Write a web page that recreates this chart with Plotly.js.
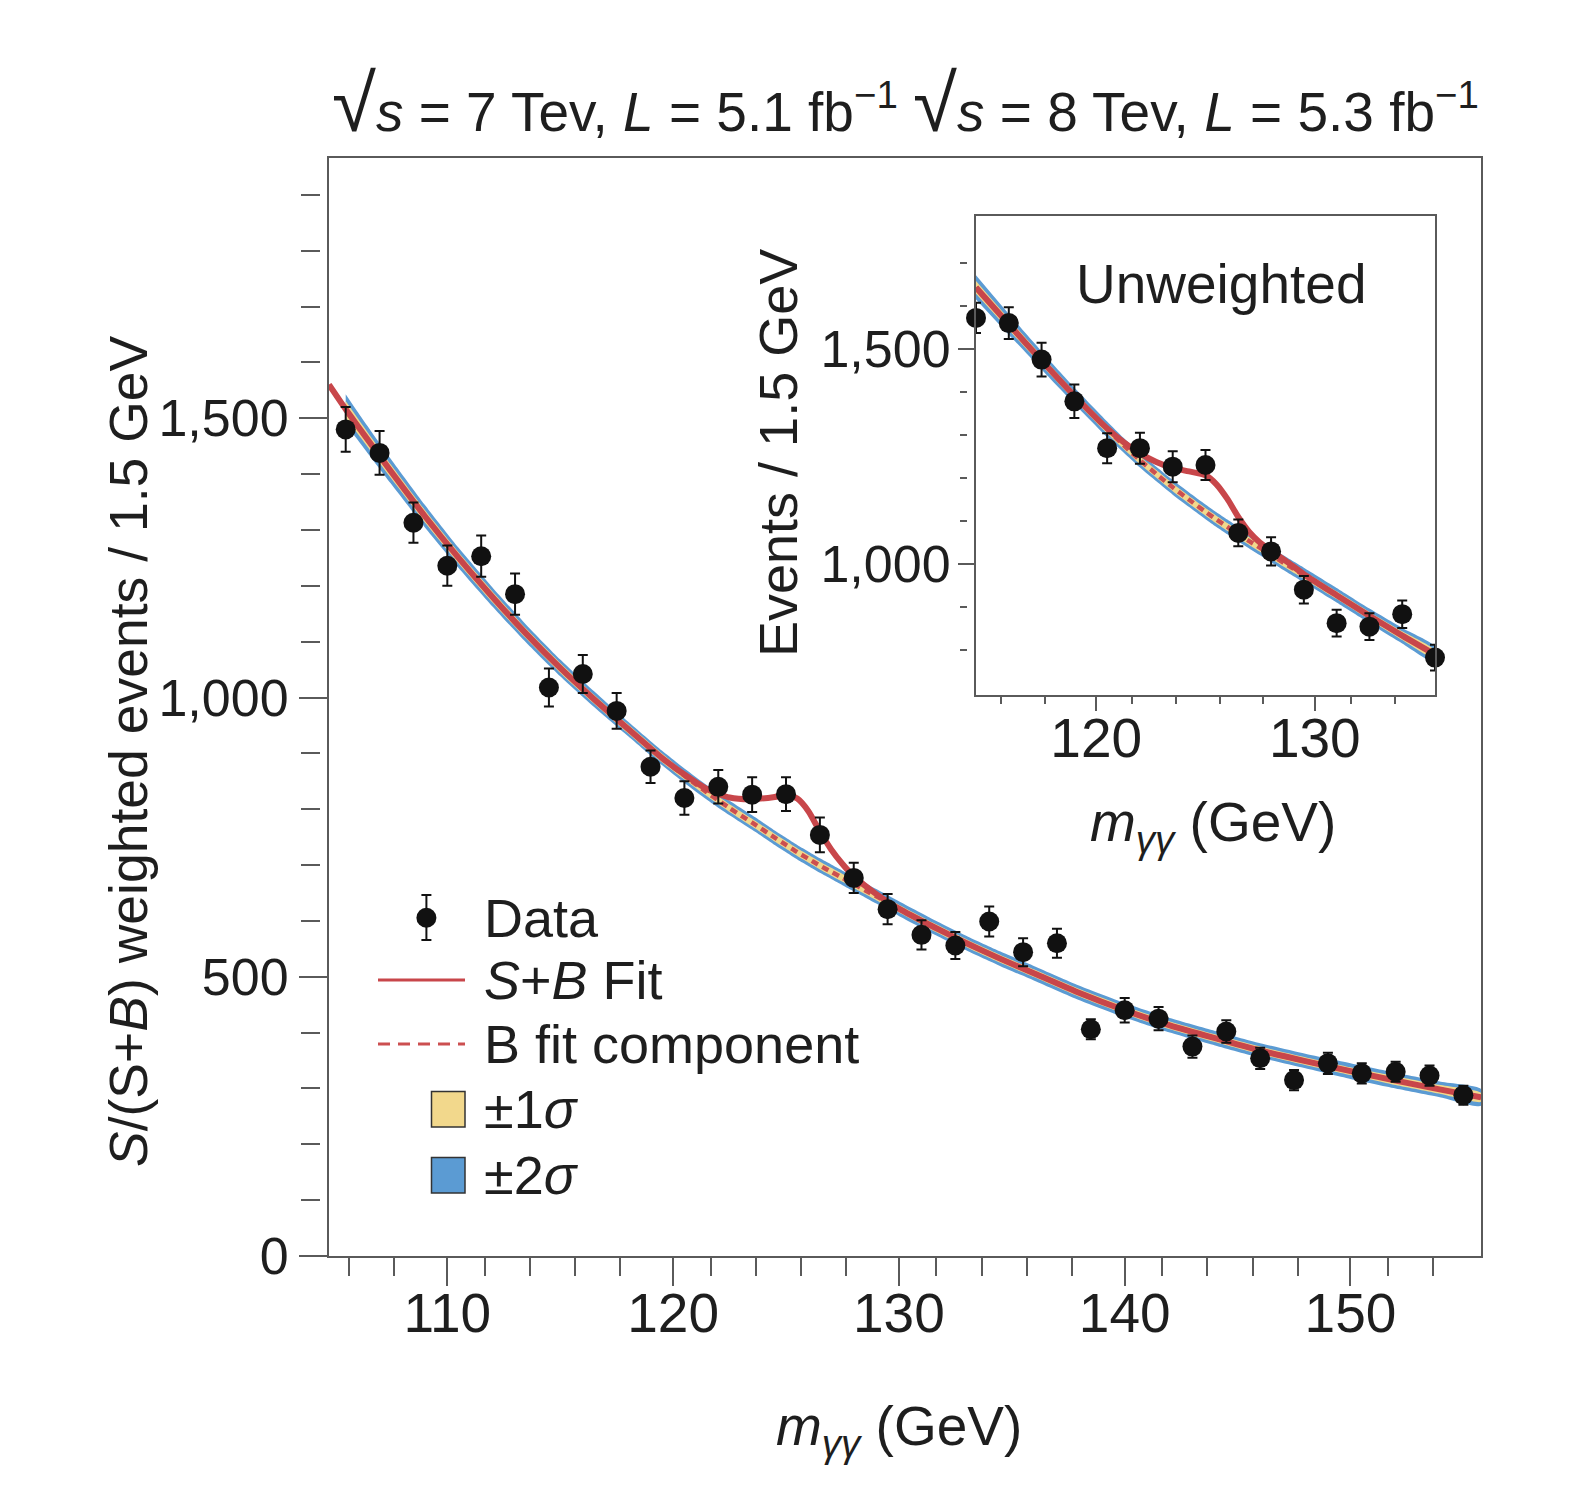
<!DOCTYPE html>
<html>
<head>
<meta charset="utf-8">
<script src="https://cdn.plot.ly/plotly-3.0.1.min.js"></script>
<style>
  html, body { margin: 0; padding: 0; background: #fff; }
  #chart { width: 1592px; height: 1486px; }
</style>
</head>
<body>
<div id="chart"></div>
<script>
/* Diphoton mass spectrum: weighted main panel plus unweighted inset */

// main panel, S/(S+B) weighted events per 1.5 GeV bin
var mass = [105.5, 107, 108.5, 110, 111.5, 113, 114.5, 116, 117.5, 119, 120.5, 122, 123.5, 125, 126.5, 128, 129.5,
            131, 132.5, 134, 135.5, 137, 138.5, 140, 141.5, 143, 144.5, 146, 147.5, 149, 150.5, 152, 153.5, 155];
var weighted = [1480, 1438, 1313, 1236, 1253, 1185, 1018, 1042, 976, 876, 820, 840, 826, 827, 754, 677, 621,
                575, 556, 599, 544, 560, 406, 440, 425, 375, 402, 354, 315, 345, 327, 330, 323, 288];
var weightedErr = [40, 39, 36, 36, 37, 37, 34, 34, 32, 29, 30, 30, 31, 30, 31, 27, 27,
                   26, 24, 27, 25, 26, 18, 22, 21, 20, 20, 19, 18, 19, 18, 18, 18, 17];

// main panel fit curves
var fitMass = [104.76, 105.5, 106, 107.5, 109, 110.5, 112, 113.5, 115, 116.5, 118, 119.5, 120.5, 121.5, 122.5,
               123.5, 124.5, 125, 125.5, 126, 126.5, 127, 127.5, 128, 128.5, 129, 130, 131.5, 133, 134.5,
               136, 138, 140, 142, 144, 146, 148, 150, 152, 154, 155.78];
var fitB = [1560, 1516, 1488, 1405, 1325, 1250, 1180, 1114, 1053, 997, 944, 892, 860, 830, 802,
            776, 749, 736, 723, 711, 699, 688, 677, 666, 655, 644, 622, 590, 560, 532,
            506, 471, 440, 413, 390, 368, 349, 331, 314, 298, 284];
var fitSB = [1560, 1516, 1488, 1405, 1325, 1250, 1180, 1114, 1053, 997, 944, 892, 862, 836, 821,
             818, 822, 826, 819, 796, 760, 728, 702, 680, 663, 648, 622, 590, 560, 532,
             506, 471, 440, 413, 390, 368, 349, 331, 314, 298, 284];
// half widths of the background uncertainty bands
var band1 = [15, 15, 14, 12, 11, 10, 10, 9, 9, 8, 8, 8, 7, 7, 7, 7, 7, 7, 7, 7, 7, 7, 7, 7, 7, 7,
             7, 7, 7, 7, 7, 7, 7, 7, 7, 7, 7, 7, 8, 8, 8];
var band2 = [27, 27, 25, 22, 20, 18, 17, 16, 15, 14, 13, 13, 13, 13, 13, 13, 13, 13, 13, 13, 13, 13, 13, 13, 13, 13,
             13, 13, 13, 13, 13, 13, 13, 13, 13, 13, 13, 14, 14, 14, 15];

// inset, unweighted events
var insetMass = [114.5, 116, 117.5, 119, 120.5, 122, 123.5, 125, 126.5, 128, 129.5, 131, 132.5, 134, 135.5];
var insetEvents = [1573, 1561, 1476, 1379, 1270, 1270, 1227, 1231, 1073, 1030, 941, 863, 855, 884, 783];
var insetErr = [35, 37, 39, 39, 35, 36, 36, 35, 31, 33, 32, 31, 31, 32, 30];

var insetFitMass = [114.5, 116, 117.5, 119, 120.5, 121.25, 122, 122.75, 123.5, 124.25, 125, 125.5, 126, 126.5,
                    127, 127.5, 128, 128.75, 129.5, 131, 132.5, 134, 135.5];
var insetFitB = [1644, 1558, 1474, 1392, 1314, 1277, 1242, 1210, 1179, 1150, 1122, 1104, 1087, 1070,
                 1054, 1038, 1022, 998, 975, 928, 880, 834, 790];
var insetFitSB = [1644, 1558, 1474, 1392, 1316, 1284, 1258, 1238, 1224, 1216, 1207, 1186, 1152, 1110,
                  1075, 1050, 1032, 1005, 977, 928, 880, 834, 790];
var insetBand1 = [15, 13, 11, 10, 10, 9, 9, 9, 9, 9, 9, 9, 9, 9, 9, 9, 9, 9, 9, 9, 9, 10, 10];
var insetBand2 = [28, 24, 21, 19, 18, 17, 17, 17, 17, 17, 17, 17, 17, 17, 17, 17, 17, 17, 17, 17, 17, 18, 19];

// tick positions
var mainMinorX = [105.66, 107.66, 111.66, 113.66, 115.66, 117.66, 121.66, 123.66, 125.66, 127.66,
                  131.66, 133.66, 135.66, 137.66, 141.66, 143.66, 145.66, 147.66, 151.66, 153.66];
var mainMinorY = [100, 200, 300, 400, 600, 700, 800, 900, 1100, 1200, 1300, 1400, 1600, 1700, 1800, 1900];
var insetMinorX = [115.65, 117.65, 121.65, 123.65, 125.65, 127.65, 131.65, 133.65];
var insetMinorY = [800, 900, 1100, 1200, 1300, 1400, 1600, 1700];

var W = 1592, H = 1486;
var FONT = 'Liberation Sans, Arial, sans-serif';
var TXT = '#1e1e1e';
var RED = '#c8464a';
var RED_DASH = '#cc4f50';
var BLUE = '#5b9bd3';
var YELLOW = '#f2d88c';
var AXIS = '#5a5a5a';

function px(x) { return x / W; }
function py(y) { return 1 - y / H; }

// closed polygon around a curve for fill:'toself'
function bandTrace(xs, mid, half, start, color, xa, ya) {
    var x = [], y = [];
    for (var i = start; i < xs.length; i++) { x.push(xs[i]); y.push(mid[i] + half[i]); }
    for (var j = xs.length - 1; j >= start; j--) { x.push(xs[j]); y.push(mid[j] - half[j]); }
    return { x: x, y: y, xaxis: xa, yaxis: ya, type: 'scatter', mode: 'lines', fill: 'toself',
             fillcolor: color, line: { width: 0, shape: 'spline', smoothing: 0.6 }, hoverinfo: 'skip', showlegend: false };
}

function curveTrace(xs, ys, color, width, dash, xa, ya) {
    return { x: xs, y: ys, xaxis: xa, yaxis: ya, type: 'scatter', mode: 'lines',
             line: { color: color, width: width, dash: dash, shape: 'spline', smoothing: 0.6 },
             showlegend: false };
}

function dataTrace(xs, ys, errs, xa, ya) {
    return { x: xs, y: ys, xaxis: xa, yaxis: ya, type: 'scatter', mode: 'markers', cliponaxis: false,
             marker: { color: '#111', size: 20 },
             error_y: { type: 'data', array: errs, visible: true, color: '#111', thickness: 2, width: 5 },
             showlegend: false };
}

// empty trace so the detached minor-tick axes get drawn
function tickHolder(xa, ya) {
    return { x: [], y: [], xaxis: xa, yaxis: ya, type: 'scatter', mode: 'markers', showlegend: false };
}

var traces = [
    bandTrace(fitMass, fitB, band2, 1, BLUE, 'x', 'y'),
    bandTrace(fitMass, fitB, band1, 1, YELLOW, 'x', 'y'),
    curveTrace(fitMass, fitB, RED_DASH, 4.5, '7px,5px', 'x', 'y'),
    curveTrace(fitMass, fitSB, RED, 6, 'solid', 'x', 'y'),
    dataTrace(mass, weighted, weightedErr, 'x', 'y'),
    bandTrace(insetFitMass, insetFitB, insetBand2, 0, BLUE, 'x2', 'y2'),
    bandTrace(insetFitMass, insetFitB, insetBand1, 0, YELLOW, 'x2', 'y2'),
    curveTrace(insetFitMass, insetFitB, RED_DASH, 4.5, '7px,5px', 'x2', 'y2'),
    curveTrace(insetFitMass, insetFitSB, RED, 6, 'solid', 'x2', 'y2'),
    dataTrace(insetMass, insetEvents, insetErr, 'x2', 'y2'),
    tickHolder('x', 'y3'),
    tickHolder('x2', 'y4')
];

function axisBase(size) {
    return {
        showline: true, mirror: true, linecolor: AXIS, linewidth: 2,
        showgrid: false, zeroline: false, ticks: 'outside', tickwidth: 2, tickcolor: AXIS,
        tickfont: { family: FONT, size: size, color: TXT }
    };
}

var xaxis = axisBase(55);
Object.assign(xaxis, { domain: [px(329), px(1481)], range: [104.76, 155.78], anchor: 'y',
    tickmode: 'linear', tick0: 0, dtick: 10, ticklen: 28, ticklabelstandoff: -20,
    minor: { tickmode: 'array', tickvals: mainMinorX, ticks: 'outside', ticklen: 18, tickwidth: 2, tickcolor: AXIS } });

var yaxis = axisBase(52);
Object.assign(yaxis, { domain: [py(1256), py(158)], range: [0, 1966], anchor: 'x',
    tickmode: 'linear', tick0: 0, dtick: 500, ticklen: 28, tickformat: ',d' });

// minor ticks that stand a little off the main y axis
var yaxis3 = { overlaying: 'y', anchor: 'free', position: px(320), side: 'left', range: [0, 1966],
    showline: false, showgrid: false, zeroline: false, showticklabels: false,
    tickmode: 'array', tickvals: mainMinorY, ticks: 'outside', ticklen: 19, tickwidth: 2, tickcolor: AXIS };

var xaxis2 = axisBase(55);
Object.assign(xaxis2, { domain: [px(976), px(1435)], range: [114.5, 135.5], anchor: 'y2',
    tickmode: 'linear', tick0: 0, dtick: 10, ticklen: 14, ticklabelstandoff: -20,
    minor: { tickmode: 'array', tickvals: insetMinorX, ticks: 'outside', ticklen: 7, tickwidth: 2, tickcolor: AXIS } });

var yaxis2 = axisBase(52);
Object.assign(yaxis2, { domain: [py(695), py(216)], range: [696, 1810], anchor: 'x2',
    tickmode: 'linear', tick0: 0, dtick: 500, ticklen: 16, tickformat: ',d', ticklabelstandoff: -3 });

var yaxis4 = { overlaying: 'y2', anchor: 'free', position: px(967), side: 'left', range: [696, 1810],
    showline: false, showgrid: false, zeroline: false, showticklabels: false,
    tickmode: 'array', tickvals: insetMinorY, ticks: 'outside', ticklen: 7, tickwidth: 2, tickcolor: AXIS };

function note(text, x, y, opts) {
    var a = { text: text, x: x, y: y, xref: 'paper', yref: 'paper', showarrow: false,
              xanchor: 'center', yanchor: 'middle', font: { family: FONT, size: 55, color: TXT } };
    return Object.assign(a, opts || {});
}
function sized(size) { return { family: FONT, size: size, color: TXT }; }

var ROOT = "<span style='font-size:80px'>√</span>";
var annotations = [
    note(ROOT + "<i>s</i> = 7 Tev, <i>L</i> = 5.1 fb<sup>−1</sup> " + ROOT +
         "<i>s</i> = 8 Tev, <i>L</i> = 5.3 fb<sup>−1</sup>", px(905), py(104)),
    note("<i>S</i>/(S+<i>B</i>) weighted events / 1.5 GeV", px(128), py(751), { textangle: -90, font: sized(53.5) }),
    note("<i>m</i><sub><i>γγ</i></sub> (GeV)", px(899), py(1430)),
    note("Events / 1.5 GeV", px(778), py(453), { textangle: -90, font: sized(54) }),
    note("<i>m</i><sub><i>γγ</i></sub> (GeV)", px(1213), py(826)),
    note("Unweighted", px(1221), py(284)),
    // legend labels
    note("Data", px(482), py(918), { xanchor: 'left', font: sized(54) }),
    note("<i>S</i>+<i>B</i> Fit", px(482), py(980), { xanchor: 'left', font: sized(54) }),
    note("B fit component", px(482), py(1044), { xanchor: 'left', font: sized(54) }),
    note("±1<i>σ</i>", px(482), py(1109), { xanchor: 'left', font: sized(54) }),
    note("±2<i>σ</i>", px(482), py(1175), { xanchor: 'left', font: sized(54) })
];

// legend keys
function seg(x0, y0, x1, y1, color, width, dash) {
    return { type: 'line', xref: 'paper', yref: 'paper', x0: px(x0), y0: py(y0), x1: px(x1), y1: py(y1),
             line: { color: color, width: width, dash: dash || 'solid' } };
}
function box(x0, y0, x1, y1, fill) {
    return { type: 'rect', xref: 'paper', yref: 'paper', x0: px(x0), y0: py(y1), x1: px(x1), y1: py(y0),
             fillcolor: fill, line: { color: '#333', width: 1.5 } };
}
var shapes = [
    seg(426.4, 895, 426.4, 940, '#111', 2),
    seg(421.4, 895, 431.4, 895, '#111', 2),
    seg(421.4, 940, 431.4, 940, '#111', 2),
    { type: 'circle', xref: 'paper', yref: 'paper', x0: px(416.4), x1: px(436.4), y0: py(927.8), y1: py(907.8),
      fillcolor: '#111', line: { width: 0 } },
    seg(378, 980, 465, 980, RED, 3),
    seg(378, 1044, 465, 1044, RED_DASH, 3, '12px,8px'),
    box(431.5, 1091.5, 465, 1127, YELLOW),
    box(431.5, 1157.5, 465, 1193, BLUE)
];

var layout = {
    width: W, height: H, autosize: false,
    margin: { l: 0, r: 0, t: 0, b: 0 },
    paper_bgcolor: '#fff', plot_bgcolor: 'rgba(0,0,0,0)',
    font: { family: FONT, color: TXT },
    showlegend: false,
    xaxis: xaxis, yaxis: yaxis, yaxis3: yaxis3,
    xaxis2: xaxis2, yaxis2: yaxis2, yaxis4: yaxis4,
    annotations: annotations, shapes: shapes
};

Plotly.newPlot('chart', traces, layout, { displayModeBar: false, staticPlot: true });
</script>
</body>
</html>
